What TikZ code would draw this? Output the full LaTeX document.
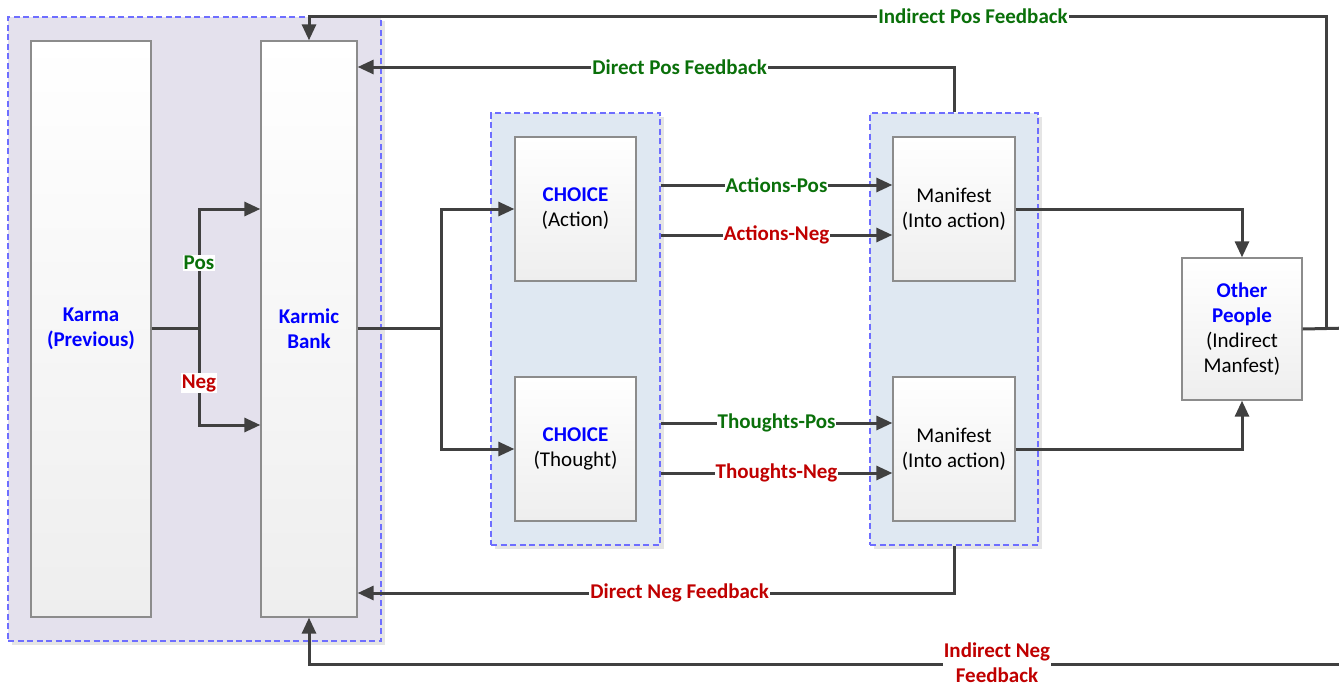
\documentclass[tikz,border=0pt]{standalone}
\usepackage{fontspec}
\setmainfont{Carlito}
\usetikzlibrary{arrows.meta,shadows}

\definecolor{lineg}{RGB}{64,64,64}
\definecolor{boxg}{RGB}{140,140,140}
\definecolor{boxbot}{RGB}{238,238,238}
\definecolor{dashb}{RGB}{110,110,255}
\definecolor{lav}{RGB}{228,225,237}
\definecolor{lblue}{RGB}{223,232,242}
\definecolor{posg}{RGB}{10,112,10}
\definecolor{negr}{RGB}{192,0,0}
\definecolor{headb}{RGB}{0,0,255}

\begin{document}
\begin{tikzpicture}[x=1pt,y=-1pt,
  every node/.style={font=\fontsize{21}{25}\selectfont},
  grp/.style={draw=dashb,line width=1.5pt,dash pattern=on 6pt off 3.5pt,
    drop shadow={shadow xshift=4pt,shadow yshift=-4pt,fill=black!10,opacity=1},
    inner sep=0pt},
  blk/.style={draw=boxg,line width=1.3pt,top color=white,bottom color=boxbot,
    align=center,inner sep=0pt},
  arr/.style={draw=lineg,line width=3pt,-{Triangle[length=16pt,width=14pt]}},
  ln/.style={draw=lineg,line width=3pt},
  lbl/.style={fill=white,inner sep=1pt,font=\fontsize{21}{25}\selectfont\bfseries},
  hd/.style={text=headb,font=\fontsize{21}{25}\selectfont\bfseries}]

\clip (0,0) rectangle (1339,686);

\node[grp,fill=lav,minimum width=373pt,minimum height=624pt] (0) at (194.5,329) {};
\node[grp,fill=lblue,minimum width=169pt,minimum height=432pt] (1) at (575.5,329) {};
\node[grp,fill=lblue,minimum width=168pt,minimum height=432pt] (2) at (954,329) {};

\node[blk,minimum width=120pt,minimum height=576pt] (3) at (91,329) {\textcolor{headb}{\bfseries Karma}\\\textcolor{headb}{\bfseries (Previous)}};
\node[blk,minimum width=96pt,minimum height=576pt] (4) at (309,329) {\textcolor{headb}{\bfseries Karmic}\\\textcolor{headb}{\bfseries Bank}};
\node[blk,minimum width=121pt,minimum height=144pt] (5) at (575.5,209) {\textcolor{headb}{\bfseries CHOICE}\\(Action)};
\node[blk,minimum width=121pt,minimum height=144pt] (6) at (575.5,449) {\textcolor{headb}{\bfseries CHOICE}\\(Thought)};
\node[blk,minimum width=122pt,minimum height=144pt] (7) at (954,209) {Manifest\\(Into action)};
\node[blk,minimum width=122pt,minimum height=144pt] (8) at (954,449) {Manifest\\(Into action)};
\node[blk,minimum width=120pt,minimum height=142pt] (9) at (1242,329) {\textcolor{headb}{\bfseries Other}\\\textcolor{headb}{\bfseries People}\\(Indirect\\Manfest)};

\coordinate (s1) at (199,328);
\coordinate (s2) at (441,328);
\coordinate (r1) at (1326,328);
\coordinate (r2) at (1350,328);

% karma split
\draw[ln] (3.east |- s1) -- (s1);
\draw[arr] (s1) -- (199,209) -- (4.west |- 0,209);
\draw[arr] (s1) -- (199,425) -- (4.west |- 0,425);
\node[lbl,text=posg] (10) at (199,263) {Pos};
\node[lbl,text=negr] (11) at (199,383) {Neg};

% bank to choices
\draw[ln] (4.east |- s2) -- (s2);
\draw[arr] (s2) |- (5.west);
\draw[arr] (s2) |- (6.west);

% choices to manifest
\draw[arr] (1.east |- 0,185) -- node[lbl,text=posg] (12) {Actions-Pos} (7.west |- 0,185);
\draw[arr] (1.east |- 0,235) -- node[lbl,text=negr] (13) {Actions-Neg} (7.west |- 0,235);
\draw[arr] (1.east |- 0,423) -- node[lbl,text=posg] (14) {Thoughts-Pos} (8.west |- 0,423);
\draw[arr] (1.east |- 0,473) -- node[lbl,text=negr] (15) {Thoughts-Neg} (8.west |- 0,473);

% manifest to others
\draw[arr] (7.east) -| (9.north);
\draw[arr] (8.east) -| (9.south);

% direct feedback
\draw[arr] (2.north) -- (954,67) -- node[lbl,text=posg,pos=0.46] (16) {Direct Pos Feedback} (4.east |- 0,67);
\draw[arr] (2.south) -- (954,593) -- node[lbl,text=negr,pos=0.46] (17) {Direct Neg Feedback} (4.east |- 0,593);

% indirect feedback
\draw[ln] (9.east) -- (r2);
\draw[arr] (r1) -- (1326,16) -- (4.north |- 0,16) -- (4.north);
\node[lbl,text=posg] (18) at (973,16) {Indirect Pos Feedback};
\draw[arr] (r2) -- (1350,664) -- (4.south |- 0,664) -- (4.south);
\node[lbl,text=negr,align=center] (19) at (997,663) {Indirect Neg\\Feedback};

\end{tikzpicture}
\end{document}
